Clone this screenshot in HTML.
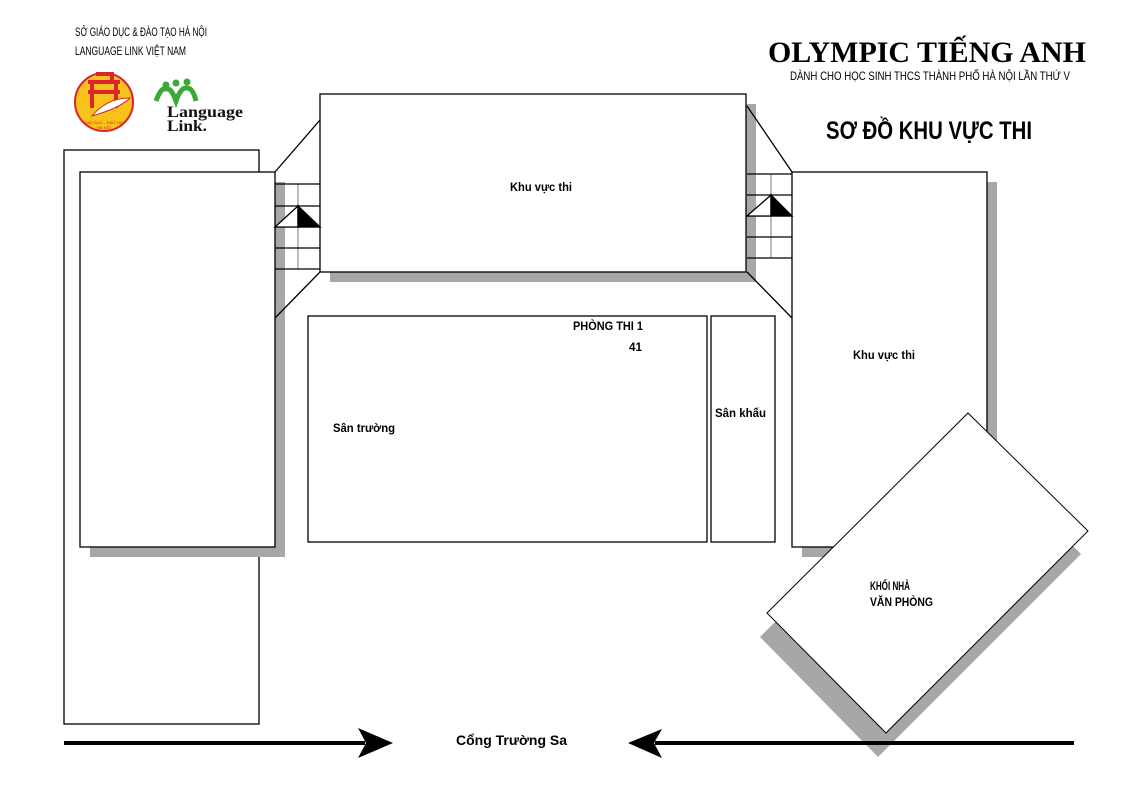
<!DOCTYPE html>
<html><head><meta charset="utf-8"><style>
html,body{margin:0;padding:0;background:#fff;}
svg{display:block}
.s{font-family:"Liberation Sans","DejaVu Sans",sans-serif;}
.r{font-family:"Liberation Serif","DejaVu Serif",serif;}
</style></head><body>
<svg width="1123" height="794" viewBox="0 0 1123 794" xmlns="http://www.w3.org/2000/svg">
<rect width="1123" height="794" fill="#fff"/>
<!-- header left -->
<text class="s" x="75" y="36" font-size="12" textLength="132" lengthAdjust="spacingAndGlyphs">SỞ GIÁO DỤC &amp; ĐÀO TẠO HÀ NỘI</text>
<text class="s" x="75" y="55" font-size="12" textLength="111" lengthAdjust="spacingAndGlyphs">LANGUAGE LINK VIỆT NAM</text>
<!-- logo 1 -->
<circle cx="104" cy="102" r="29" fill="#f6c21b" stroke="#d9262c" stroke-width="2"/>
<path d="M88 82 h32 M92 82 v26 M116 82 v26 M88 92 h32 M96 74 h16 v8" stroke="#d9262c" stroke-width="4" fill="none"/>
<path d="M92 116 q15 -18 38 -18 q-10 10 -38 18z" fill="#fff" stroke="#d9262c" stroke-width="1"/>
<text class="s" x="104" y="124" font-size="4" fill="#d9262c" text-anchor="middle">GIÁO DỤC - ĐÀO TẠO</text>
<text class="s" x="104" y="129" font-size="4" fill="#d9262c" text-anchor="middle">HÀ NỘI</text>
<!-- logo 2 -->
<circle cx="166" cy="85" r="3.5" fill="#3aa935"/><circle cx="176" cy="83" r="3.5" fill="#3aa935"/><circle cx="187" cy="82" r="3.5" fill="#3aa935"/>
<path d="M156 101 q5 -14 10 -12 q5 -2 10 12 q5 -14 11 -13 q6 0 9 13" fill="none" stroke="#3aa935" stroke-width="5"/>
<text class="r" x="167" y="117" font-size="16" font-weight="bold" fill="#111" textLength="76" lengthAdjust="spacingAndGlyphs">Language</text>
<text class="r" x="167" y="131" font-size="16" font-weight="bold" fill="#111" textLength="40" lengthAdjust="spacingAndGlyphs">Link.</text>
<!-- header right -->
<text class="r" x="768" y="62" font-size="30" font-weight="bold" textLength="318" lengthAdjust="spacingAndGlyphs">OLYMPIC TIẾNG ANH</text>
<text class="s" x="790" y="80" font-size="12" textLength="280" lengthAdjust="spacingAndGlyphs">DÀNH CHO HỌC SINH THCS THÀNH PHỐ HÀ NỘI LẦN THỨ V</text>
<text class="s" x="826" y="139" font-size="25" font-weight="bold" textLength="206" lengthAdjust="spacingAndGlyphs">SƠ ĐỒ KHU VỰC THI</text>

<g stroke="#000" stroke-width="1.3" fill="#fff">
<rect x="64" y="150" width="195" height="574"/>
<rect x="90" y="182" width="195" height="375" fill="#a7a7aa" stroke="none"/>
<rect x="80" y="172" width="195" height="375"/>
<rect x="330" y="104" width="426" height="178" fill="#a7a7aa" stroke="none"/>
<rect x="320" y="94" width="426" height="178"/>
<line x1="275" y1="172" x2="320" y2="120"/>
<line x1="275" y1="318" x2="320" y2="272"/>
<line x1="298" y1="184" x2="298" y2="269" stroke="#999"/>
<line x1="275" y1="184" x2="320" y2="184"/><line x1="275" y1="206" x2="320" y2="206"/><line x1="275" y1="227" x2="320" y2="227"/><line x1="275" y1="248" x2="320" y2="248"/><line x1="275" y1="269" x2="320" y2="269"/>
<polygon points="275,227 298,206 298,227"/>
<polygon points="298,206 320,227 298,227" fill="#000"/>
<rect x="802" y="182" width="195" height="375" fill="#a7a7aa" stroke="none"/>
<rect x="792" y="172" width="195" height="375"/>
<line x1="747" y1="106" x2="792" y2="172"/>
<line x1="747" y1="272" x2="792" y2="318"/>
<line x1="771" y1="174" x2="771" y2="258" stroke="#999"/>
<line x1="747" y1="174" x2="792" y2="174"/><line x1="747" y1="195" x2="792" y2="195"/><line x1="747" y1="216" x2="792" y2="216"/><line x1="747" y1="237" x2="792" y2="237"/><line x1="747" y1="258" x2="792" y2="258"/>
<polygon points="747,216 771,195 771,216"/>
<polygon points="771,195 792,216 771,216" fill="#000"/>
<rect x="308" y="316" width="399" height="226"/>
<rect x="711" y="316" width="64" height="226"/>
<polygon points="961,436 1081,554 878,757 760,637" fill="#a7a7aa" stroke="none"/>
<polygon points="968,413 1088,531 886,733 767,613" stroke-width="1"/>
</g>
<g class="s" font-weight="bold" font-size="12">
<text x="510" y="191" textLength="62" lengthAdjust="spacingAndGlyphs">Khu vực thi</text>
<text x="853" y="359" textLength="62" lengthAdjust="spacingAndGlyphs">Khu vực thi</text>
<text x="573" y="330" textLength="70" lengthAdjust="spacingAndGlyphs">PHÒNG THI 1</text>
<text x="629" y="351" textLength="13" lengthAdjust="spacingAndGlyphs">41</text>
<text x="333" y="432" textLength="62" lengthAdjust="spacingAndGlyphs">Sân trường</text>
<text x="715" y="417" textLength="51" lengthAdjust="spacingAndGlyphs">Sân khấu</text>
<text x="870" y="590" textLength="40" lengthAdjust="spacingAndGlyphs">KHỐI NHÀ</text>
<text x="870" y="606" textLength="63" lengthAdjust="spacingAndGlyphs">VĂN PHÒNG</text>
<text x="456" y="745" font-size="14" textLength="111" lengthAdjust="spacingAndGlyphs">Cổng Trường Sa</text>
</g>
<line x1="64" y1="743" x2="365" y2="743" stroke="#000" stroke-width="4"/>
<polygon points="393,743 358,728 366,743 358,758" fill="#000"/>
<line x1="655" y1="743" x2="1074" y2="743" stroke="#000" stroke-width="4"/>
<polygon points="628,743 662,729 654,743 662,758" fill="#000"/>
</svg>
</body></html>
